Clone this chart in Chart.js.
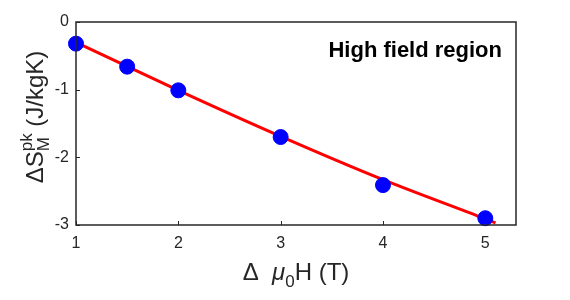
<!DOCTYPE html>
<html>
<head>
<meta charset="utf-8">
<script src="https://cdn.jsdelivr.net/npm/chart.js@4"></script>
<style>
  html, body { margin: 0; padding: 0; background: #fff; }
  #wrap { width: 570px; height: 300px; }
</style>
</head>
<body>
<div id="wrap"><canvas id="c" width="570" height="300"></canvas></div>
<script>
// measured peak entropy change vs field change
const fieldSteps = [1, 1.5, 2, 3, 4, 5];
const peakEntropy = [-0.32, -0.66, -1.01, -1.70, -2.41, -2.90];

// red fit curve
const fitX = [1, 2, 3, 4, 5, 5.1];
const fitY = [-0.30, -1.01, -1.69, -2.33, -2.91, -2.97];

const xTicks = [1, 2, 3, 4, 5];
const yTicks = [0, -1, -2, -3];

const INK = '#262626';
const FONT = "'Liberation Sans', Arial, sans-serif";

// MATLAB-ish box, inward ticks and the fancy axis labels
const boxPlugin = {
  id: 'box',
  afterDraw(chart) {
    const { ctx, chartArea: a, scales } = chart;
    ctx.save();
    ctx.strokeStyle = INK;
    ctx.lineWidth = 1.5;
    ctx.strokeRect(a.left, a.top, a.right - a.left, a.bottom - a.top);

    ctx.lineWidth = 1;
    xTicks.forEach(v => {
      const px = Math.round(scales.x.getPixelForValue(v)) + 0.5;
      ctx.beginPath(); ctx.moveTo(px, a.bottom); ctx.lineTo(px, a.bottom - 4); ctx.stroke();
    });
    yTicks.forEach(v => {
      const py = Math.round(scales.y.getPixelForValue(v)) + 0.5;
      ctx.beginPath(); ctx.moveTo(a.left, py); ctx.lineTo(a.left + 4, py); ctx.stroke();
    });

    // annotation
    ctx.fillStyle = '#000';
    ctx.font = 'bold 22px ' + FONT;
    ctx.textAlign = 'right';
    ctx.textBaseline = 'alphabetic';
    ctx.fillText('High field region', 502, 57);

    // x label: Δ μ0H (T)
    ctx.fillStyle = INK;
    ctx.textAlign = 'left';
    const big = '24px ' + FONT, small = '17px ' + FONT;
    const parts = [
      { t: 'Δ  ', f: big, dy: 0 },
      { t: 'μ', f: 'italic ' + big, dy: 0 },
      { t: '0', f: small, dy: 7 },
      { t: 'H (T)', f: big, dy: 0 }
    ];
    let w = 0;
    parts.forEach(p => { ctx.font = p.f; w += ctx.measureText(p.t).width; });
    let x = 296 - w / 2;
    parts.forEach(p => {
      ctx.font = p.f; ctx.fillText(p.t, x, 280 + p.dy); x += ctx.measureText(p.t).width;
    });

    // y label: ΔS_M^pk (J/kgK), rotated
    ctx.translate(43, 117);
    ctx.rotate(-Math.PI / 2);
    ctx.font = big;
    const w1 = ctx.measureText('ΔS').width;
    ctx.font = small;
    const wSup = Math.max(ctx.measureText('pk').width, ctx.measureText('M').width);
    ctx.font = big;
    const w3 = ctx.measureText(' (J/kgK)').width;
    let yx = -(w1 + wSup + w3) / 2;
    ctx.fillText('ΔS', yx, 0); yx += w1;
    ctx.font = small;
    ctx.fillText('pk', yx, -11);
    ctx.fillText('M', yx, 6);
    yx += wSup;
    ctx.font = big;
    ctx.fillText(' (J/kgK)', yx, 0);
    ctx.restore();
  }
};

new Chart(document.getElementById('c'), {
  type: 'scatter',
  data: {
    datasets: [
      {
        label: 'fit',
        type: 'line',
        data: fitX.map((x, i) => ({ x, y: fitY[i] })),
        borderColor: '#ff0000',
        borderWidth: 3,
        pointRadius: 0,
        cubicInterpolationMode: 'monotone',
        clip: false,
        order: 2
      },
      {
        label: 'data',
        data: fieldSteps.map((x, i) => ({ x, y: peakEntropy[i] })),
        backgroundColor: '#0000ff',
        borderColor: '#0000ff',
        pointRadius: 7.5,
        clip: false,
        order: 1
      }
    ]
  },
  options: {
    responsive: false,
    animation: false,
    layout: { padding: { left: 0, top: 22, right: 54, bottom: 0 } },
    plugins: { legend: { display: false }, tooltip: { enabled: false } },
    scales: {
      x: {
        type: 'linear',
        min: 1, max: 5.3,
        afterBuildTicks: s => { s.ticks = xTicks.map(v => ({ value: v })); },
        afterFit: s => { s.height = 75; },
        grid: { display: false, drawTicks: false },
        border: { display: false },
        ticks: { color: INK, font: { size: 16, family: FONT }, padding: 9 }
      },
      y: {
        min: -3, max: 0,
        afterBuildTicks: s => { s.ticks = yTicks.map(v => ({ value: v })); },
        afterFit: s => { s.width = 76; },
        grid: { display: false, drawTicks: false },
        border: { display: false },
        ticks: { color: INK, font: { size: 16, family: FONT }, padding: 7 }
      }
    }
  },
  plugins: [boxPlugin]
});
</script>
</body>
</html>
